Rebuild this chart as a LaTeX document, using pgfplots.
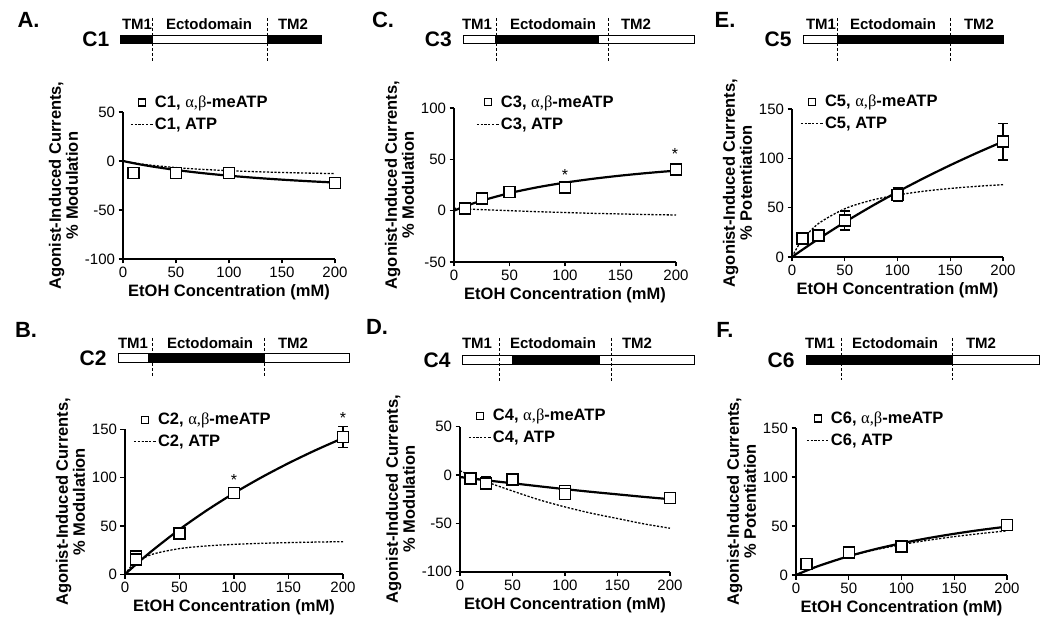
\documentclass[border=0pt]{standalone}
\usepackage{fontspec}
\setmainfont{Liberation Sans}
\newfontfamily\greekfont{Liberation Serif}
\usepackage{pgfplots}
\pgfplotsset{compat=1.18}
\newcommand{\ab}{{\greekfont\mdseries α,β}}
\newcommand{\fs}[1]{\fontsize{#1bp}{#1bp}\selectfont}

\pgfplotsset{
 panel/.style={
  scale only axis, axis lines*=left, axis line style={line width=1.6bp},
  xmin=0, xmax=200, xtick={0,50,100,150,200},
  tick align=outside, major tick length=4.5bp,
  every tick/.style={line width=1.3bp, black},
  tick label style={font=\fs{15}},
  label style={font=\bfseries\fontsize{16.5bp}{17bp}\selectfont},
  xlabel={EtOH Concentration (mM)},
  ylabel style={align=center},
  clip=false,
  legend cell align=left,
  legend style={draw=none, fill=none, font=\bfseries\fs{16.5}, inner sep=0pt, anchor=west, nodes={inner sep=1.5bp}, row sep=6bp},
  legend image code/.code={\draw[mark repeat=2,mark phase=2,##1] plot coordinates {(0bp,0bp) (11bp,0bp) (22bp,0bp)};},
  /pgf/number format/assume math mode=true,
 },
 sq/.style={only marks, mark=square*, mark size=5.5bp, mark options={fill=white, line width=1.4bp, draw=black}},
 legsq/.style={only marks, mark=square*, mark size=3.5bp, mark options={fill=white, line width=1.2bp, draw=black}},
 fitline/.style={line width=2.2bp, smooth, no marks, black},
 atpline/.style={line width=1.3bp, dash pattern=on 2.2bp off 1.6bp, smooth, no marks, black},
 eb/.style={error bars/y dir=both, error bars/y explicit, error bars/error bar style={line width=1.3bp, black}, error bars/error mark options={rotate=90, line width=1.3bp, mark size=5bp, black}},
}

\begin{document}
\begin{tikzpicture}
\path[use as bounding box] (0bp,0bp) rectangle (1050bp,627bp);

% ---------------- Panel A (C1)
\begin{axis}[panel, at={(123bp,368bp)}, anchor=south west, width=212bp, height=147bp,
  ymin=-100, ymax=50, ytick={-100,-50,0,50},
  ylabel={Agonist-Induced Currents,\\\% Modulation},
  legend style={at={(axis description cs:0.033,0.99)}}]
\addlegendimage{legsq}\addlegendentry{C1, \ab-meATP}
\addlegendimage{atpline}\addlegendentry{C1, ATP}
\addplot[fitline, forget plot] coordinates {(0,0) (10,-2.23) (25,-5.16) (50,-9.17) (75,-12.38) (100,-15.0) (125,-17.19) (150,-19.04) (175,-20.63) (200,-22.0)};
\addplot[atpline, forget plot] coordinates {(0,0) (10,-1.91) (25,-4.13) (50,-6.75) (75,-8.56) (100,-9.89) (125,-10.91) (150,-11.71) (175,-12.36) (200,-12.89)};
\addplot[forget plot, sq, eb] table[x=x, y=y, y error=e] {
x y e
10 -12 0
50 -12 0
100 -12 1.5
200 -22.5 5.5
};
\end{axis}

% ---------------- Panel C (C3)
\begin{axis}[panel, at={(454bp,365bp)}, anchor=south west, width=222bp, height=154bp,
  ymin=-50, ymax=100, ytick={-50,0,50,100},
  ylabel={Agonist-Induced Currents,\\\% Modulation},
  legend style={at={(axis description cs:0.099,0.965)}}]
\addlegendimage{legsq}\addlegendentry{C3, \ab-meATP}
\addlegendimage{atpline}\addlegendentry{C3, ATP}
\addplot[fitline, forget plot] coordinates {(0,0) (10,4.27) (25,9.75) (50,17.06) (75,22.75) (100,27.3) (125,31.02) (150,34.13) (175,36.75) (200,39.0)};
\addplot[atpline, forget plot] coordinates {(0,2.5) (10,1.7) (25,1.0) (50,0) (75,-1.0) (100,-1.8) (125,-2.6) (150,-3.2) (175,-3.8) (200,-4.2)};
\addplot[forget plot, sq, eb] table[x=x, y=y, y error=e] {
x y e
10 2.3 0
25 12 0
50 18 0
100 22.5 0
200 40 2
};
\node[font=\fs{16}, inner sep=0pt] at (axis cs:100,37.4) [yshift=-3bp] {*};
\node[font=\fs{16}, inner sep=0pt] at (axis cs:199,58.5) [yshift=-3bp] {*};
\end{axis}

% ---------------- Panel E (C5)
\begin{axis}[panel, at={(792bp,370bp)}, anchor=south west, width=211bp, height=148bp,
  ymin=0, ymax=150, ytick={0,50,100,150},
  ylabel={Agonist-Induced Currents,\\\% Potentiation},
  legend style={at={(axis description cs:0.038,0.975)}}]
\addlegendimage{legsq}\addlegendentry{C5, \ab-meATP}
\addlegendimage{atpline}\addlegendentry{C5, ATP}
\addplot[fitline, forget plot] coordinates {(0,0) (10,7.46) (25,18.26) (50,35.26) (75,51.14) (100,66.0) (125,79.94) (150,93.04) (175,105.37) (200,117.0)};
\addplot[atpline, forget plot] coordinates {(0,0) (5,9.78) (10,17.6) (25,33.85) (50,48.89) (75,57.39) (100,62.86) (125,66.67) (150,69.47) (175,71.63) (200,73.33)};
\addplot[forget plot, sq, eb] table[x=x, y=y, y error=e] {
x y e
10 18.6 6
25 21.6 1.5
50 37 9.5
100 63 6.8
200 117 18.6
};
\end{axis}

% ---------------- Panel B (C2)
\begin{axis}[panel, at={(125bp,52.7bp)}, anchor=south west, width=218bp, height=145bp,
  ymin=0, ymax=150, ytick={0,50,100,150},
  ylabel={Agonist-Induced Currents,\\\% Modulation},
  legend style={at={(axis description cs:0.037,0.99)}}]
\addlegendimage{legsq}\addlegendentry{C2, \ab-meATP}
\addlegendimage{atpline}\addlegendentry{C2, ATP}
\addplot[fitline, forget plot] coordinates {(0,0) (10,10.14) (25,24.5) (50,46.4) (75,66.11) (100,83.94) (125,100.14) (150,114.92) (175,128.47) (200,140.93)};
\addplot[atpline, forget plot] coordinates {(0,0) (5,7.48) (10,12.45) (25,20.7) (50,26.58) (75,29.35) (100,30.97) (125,32.03) (150,32.77) (175,33.33) (200,33.76)};
\addplot[forget plot, sq, eb] table[x=x, y=y, y error=e] {
x y e
10 18.5 0
10 15.5 4.5
50 42 0
100 84 0
200 142 11
};
\node[font=\fs{16}, inner sep=0pt] at (axis cs:100,100.9) [yshift=-3bp] {*};
\node[font=\fs{16}, inner sep=0pt] at (axis cs:200,164.6) [yshift=-3bp] {*};
\end{axis}

% ---------------- Panel D (C4)
\begin{axis}[panel, at={(460bp,55.3bp)}, anchor=south west, width=210bp, height=145bp,
  ymin=-100, ymax=50, ytick={-100,-50,0,50},
  ylabel={Agonist-Induced Currents,\\\% Modulation},
  legend style={at={(axis description cs:0.038,1.0)}}]
\addlegendimage{legsq}\addlegendentry{C4, \ab-meATP}
\addlegendimage{atpline}\addlegendentry{C4, ATP}
\addplot[fitline, forget plot] coordinates {(0,-2) (10,-3.5) (25,-5.5) (50,-8.5) (75,-11.6) (100,-14.6) (125,-17.4) (150,-20.0) (175,-22.6) (200,-25.0)};
\addplot[atpline, forget plot] coordinates {(0,4.5) (10,-0.5) (25,-7.0) (50,-16.5) (75,-25.5) (100,-33.0) (125,-39.5) (150,-45.0) (175,-50.5) (200,-55.0)};
\addplot[forget plot, sq, eb] table[x=x, y=y, y error=e] {
x y e
10 -3.4 0
25 -8.6 6.5
50 -4.5 0
100 -16.5 0
100 -19.5 0
200 -24 0
};
\end{axis}

% ---------------- Panel F (C6)
\begin{axis}[panel, at={(796bp,52bp)}, anchor=south west, width=211bp, height=147bp,
  ymin=0, ymax=150, ytick={0,50,100,150},
  ylabel={Agonist-Induced Currents,\\\% Potentiation},
  legend style={at={(axis description cs:0.047,0.99)}}]
\addlegendimage{legsq}\addlegendentry{C6, \ab-meATP}
\addlegendimage{atpline}\addlegendentry{C6, ATP}
\addplot[fitline, forget plot] coordinates {(0,0) (10,4.5) (25,10.57) (50,19.19) (75,26.35) (100,32.4) (125,37.57) (150,42.05) (175,45.96) (200,49.41)};
\addplot[atpline, forget plot] coordinates {(0,0) (10,4.7) (25,10.82) (50,19.12) (75,25.69) (100,31.02) (125,35.43) (150,39.14) (175,42.31) (200,45.04)};
\addplot[forget plot, sq, eb] table[x=x, y=y, y error=e] {
x y e
10 11 0
50 23 2
100 29 3
200 51 2
};
\end{axis}

% ---------------- Construct schematics
\begin{scope}[x=1bp, y=-1bp, shift={(0bp,627bp)}, line width=1bp]
\tikzset{dsh/.style={dash pattern=on 3bp off 2bp, line width=1bp},
         plab/.style={font=\bfseries\fs{22}, inner sep=0pt},
         clab/.style={font=\bfseries\fs{21}, inner sep=0pt, anchor=east},
         dlab/.style={font=\bfseries\fs{15}, inner sep=0pt}}
% A
\node[plab] at (28.5,19.5) {A.};
\node[clab] at (109.7,39.5) {C1};
\filldraw[fill=black] (120.7,35.5) rectangle (152,44);
\filldraw[fill=white] (152,35.5) rectangle (267,44);
\filldraw[fill=black] (267,35.5) rectangle (321,44);
\draw[dsh] (152,18) -- (152,62) (267,18) -- (267,62);
\node[dlab] at (137,24.3) {TM1};
\node[dlab] at (209,24.3) {Ectodomain};
\node[dlab] at (293,24.3) {TM2};
% C
\node[plab] at (383,19.5) {C.};
\node[clab] at (452.3,39.5) {C3};
\filldraw[fill=white] (463.3,35.5) rectangle (495,44);
\filldraw[fill=black] (495,35.5) rectangle (598,44);
\filldraw[fill=white] (598,35.5) rectangle (694,44);
\draw[dsh] (496.7,18) -- (496.7,62) (608.3,18) -- (608.3,62);
\node[dlab] at (477,24.5) {TM1};
\node[dlab] at (553,24.5) {Ectodomain};
\node[dlab] at (636,24.5) {TM2};
% E
\node[plab] at (725,20) {E.};
\node[clab] at (792,39.5) {C5};
\filldraw[fill=white] (803,35.5) rectangle (837,44);
\filldraw[fill=black] (837,35.5) rectangle (1003,44);
\draw[dsh] (837.7,18) -- (837.7,62) (950,18) -- (950,62);
\node[dlab] at (821,24.5) {TM1};
\node[dlab] at (893,24.5) {Ectodomain};
\node[dlab] at (979,24.5) {TM2};
% B
\node[plab] at (26,330) {B.};
\node[clab] at (107,358) {C2};
\filldraw[fill=white] (118,353.3) rectangle (148,362.7);
\filldraw[fill=black] (148,353.3) rectangle (264,362.7);
\filldraw[fill=white] (264,353.3) rectangle (349,362.7);
\draw[dsh] (152.7,338) -- (152.7,378) (264,338) -- (264,378);
\node[dlab] at (133,343) {TM1};
\node[dlab] at (210,343) {Ectodomain};
\node[dlab] at (293,343) {TM2};
% D
\node[plab] at (377,327) {D.};
\node[clab] at (451,360.3) {C4};
\filldraw[fill=white] (462,355.7) rectangle (512,365);
\filldraw[fill=black] (512,355.7) rectangle (599,365);
\filldraw[fill=white] (599,355.7) rectangle (694,365);
\draw[dsh] (499,338) -- (499,382) (611,338) -- (611,382);
\node[dlab] at (477,343) {TM1};
\node[dlab] at (553,343) {Ectodomain};
\node[dlab] at (637,343) {TM2};
% F
\node[plab] at (725,330) {F.};
\node[clab] at (795,360.5) {C6};
\filldraw[fill=black] (806,356) rectangle (952,365);
\filldraw[fill=white] (952,356) rectangle (1039,365);
\draw[dsh] (841.7,338) -- (841.7,380) (952.3,338) -- (952.3,380);
\node[dlab] at (820,343) {TM1};
\node[dlab] at (895,343) {Ectodomain};
\node[dlab] at (981,343) {TM2};
\end{scope}
\end{tikzpicture}
\end{document}
